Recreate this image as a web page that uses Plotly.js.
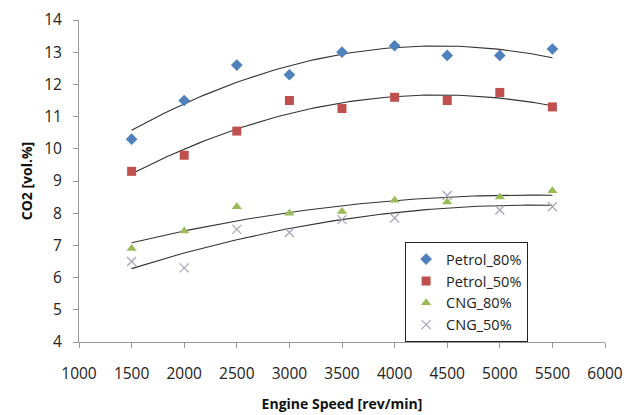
<!DOCTYPE html>
<html><head><meta charset="utf-8">
<script src="https://cdn.plot.ly/plotly-3.0.1.min.js"></script>
<style>body{margin:0;background:#fff}#c{width:629px;height:415px}</style>
</head><body><div id="c"></div>
<script>
const rpm = [1500, 2000, 2500, 3000, 3500, 4000, 4500, 5000, 5500];
const petrol80 = [10.3, 11.5, 12.6, 12.3, 13.0, 13.2, 12.9, 12.9, 13.1];
const petrol50 = [9.3, 9.8, 10.55, 11.5, 11.25, 11.6, 11.5, 11.75, 11.3];
const cng80 = [6.9, 7.45, 8.2, 8.0, 8.05, 8.4, 8.35, 8.5, 8.7];
const cng50 = [6.5, 6.3, 7.5, 7.4, 7.8, 7.85, 8.55, 8.1, 8.2];
const seriesNames = ['Petrol_80%', 'Petrol_50%', 'CNG_80%', 'CNG_50%'];

function quadFit(x, y) {
  let n = x.length, s = [0,0,0,0,0], t = [0,0,0];
  for (let i = 0; i < n; i++) {
    const xi = x[i] / 1000;
    for (let k = 0; k < 5; k++) s[k] += Math.pow(xi, k);
    for (let k = 0; k < 3; k++) t[k] += y[i] * Math.pow(xi, k);
  }
  const M = [[s[0],s[1],s[2],t[0]],[s[1],s[2],s[3],t[1]],[s[2],s[3],s[4],t[2]]];
  for (let i = 0; i < 3; i++) {
    for (let j = i+1; j < 3; j++) {
      const f = M[j][i] / M[i][i];
      for (let k = i; k < 4; k++) M[j][k] -= f * M[i][k];
    }
  }
  const c = [0,0,0];
  for (let i = 2; i >= 0; i--) {
    let v = M[i][3];
    for (let k = i+1; k < 3; k++) v -= M[i][k] * c[k];
    c[i] = v / M[i][i];
  }
  const xs = [], ys = [];
  for (let xv = x[0]; xv <= x[n-1] + 1e-9; xv += 50) {
    const u = xv / 1000;
    xs.push(xv); ys.push(c[0] + c[1]*u + c[2]*u*u);
  }
  return {xs, ys};
}

const data = [petrol80, petrol50, cng80, cng50];
const markers = [
  {symbol: 'diamond', size: 9, color: '#4F81BD'},
  {symbol: 'square', size: 9, color: '#C0504D'},
  {symbol: 'triangle-up', size: 9, color: '#9BBB59'},
  {symbol: 'x-thin-open', size: 9, color: '#A6A6B8', line: {width: 1.2, color: '#A6A6B8'}}
];
const traces = [];
data.forEach((y, i) => {
  const f = quadFit(rpm, y);
  traces.push({x: f.xs, y: f.ys, mode: 'lines', line: {color: '#333', width: 1.1}, showlegend: false, hoverinfo: 'skip'});
});
data.forEach((y, i) => {
  traces.push({x: rpm, y: y, mode: 'markers', name: seriesNames[i], marker: markers[i]});
});

const layout = {
  width: 629, height: 415,
  margin: {l: 79, r: 24, t: 20, b: 73},
  paper_bgcolor: '#fff', plot_bgcolor: '#fff',
  font: {family: 'Open Sans, sans-serif', size: 15, color: '#222'},
  xaxis: {
    range: [1000, 6000], dtick: 500, tick0: 1000, showgrid: false, zeroline: false,
    showline: true, linecolor: '#999', linewidth: 1, ticks: 'outside', ticklen: 5, tickcolor: '#999',
    tickfont: {size: 15.5, color: '#222'}, ticklabelstandoff: 12,
    title: {text: 'Engine Speed [rev/min]', font: {size: 14, color: '#111', weight: 'bold'}, standoff: 16}
  },
  yaxis: {
    range: [4, 14], dtick: 1, showgrid: false, zeroline: false,
    showline: true, linecolor: '#999', linewidth: 1, ticks: 'outside', ticklen: 5, tickcolor: '#999',
    tickfont: {size: 15.5, color: '#222'}, ticklabelstandoff: 8,
    title: {text: 'CO2 [vol.%]', font: {size: 14, color: '#111', weight: 'bold'}, standoff: 8}
  },
  legend: {
    x: 0.62, y: 0.31, xanchor: 'left', yanchor: 'top',
    bordercolor: '#222', borderwidth: 1, bgcolor: '#fff',
    font: {size: 14.5, color: '#222'}, tracegroupgap: 0, itemwidth: 30
  },
  showlegend: true
};
Plotly.newPlot('c', traces, layout, {staticPlot: true});
</script>
</body></html>
